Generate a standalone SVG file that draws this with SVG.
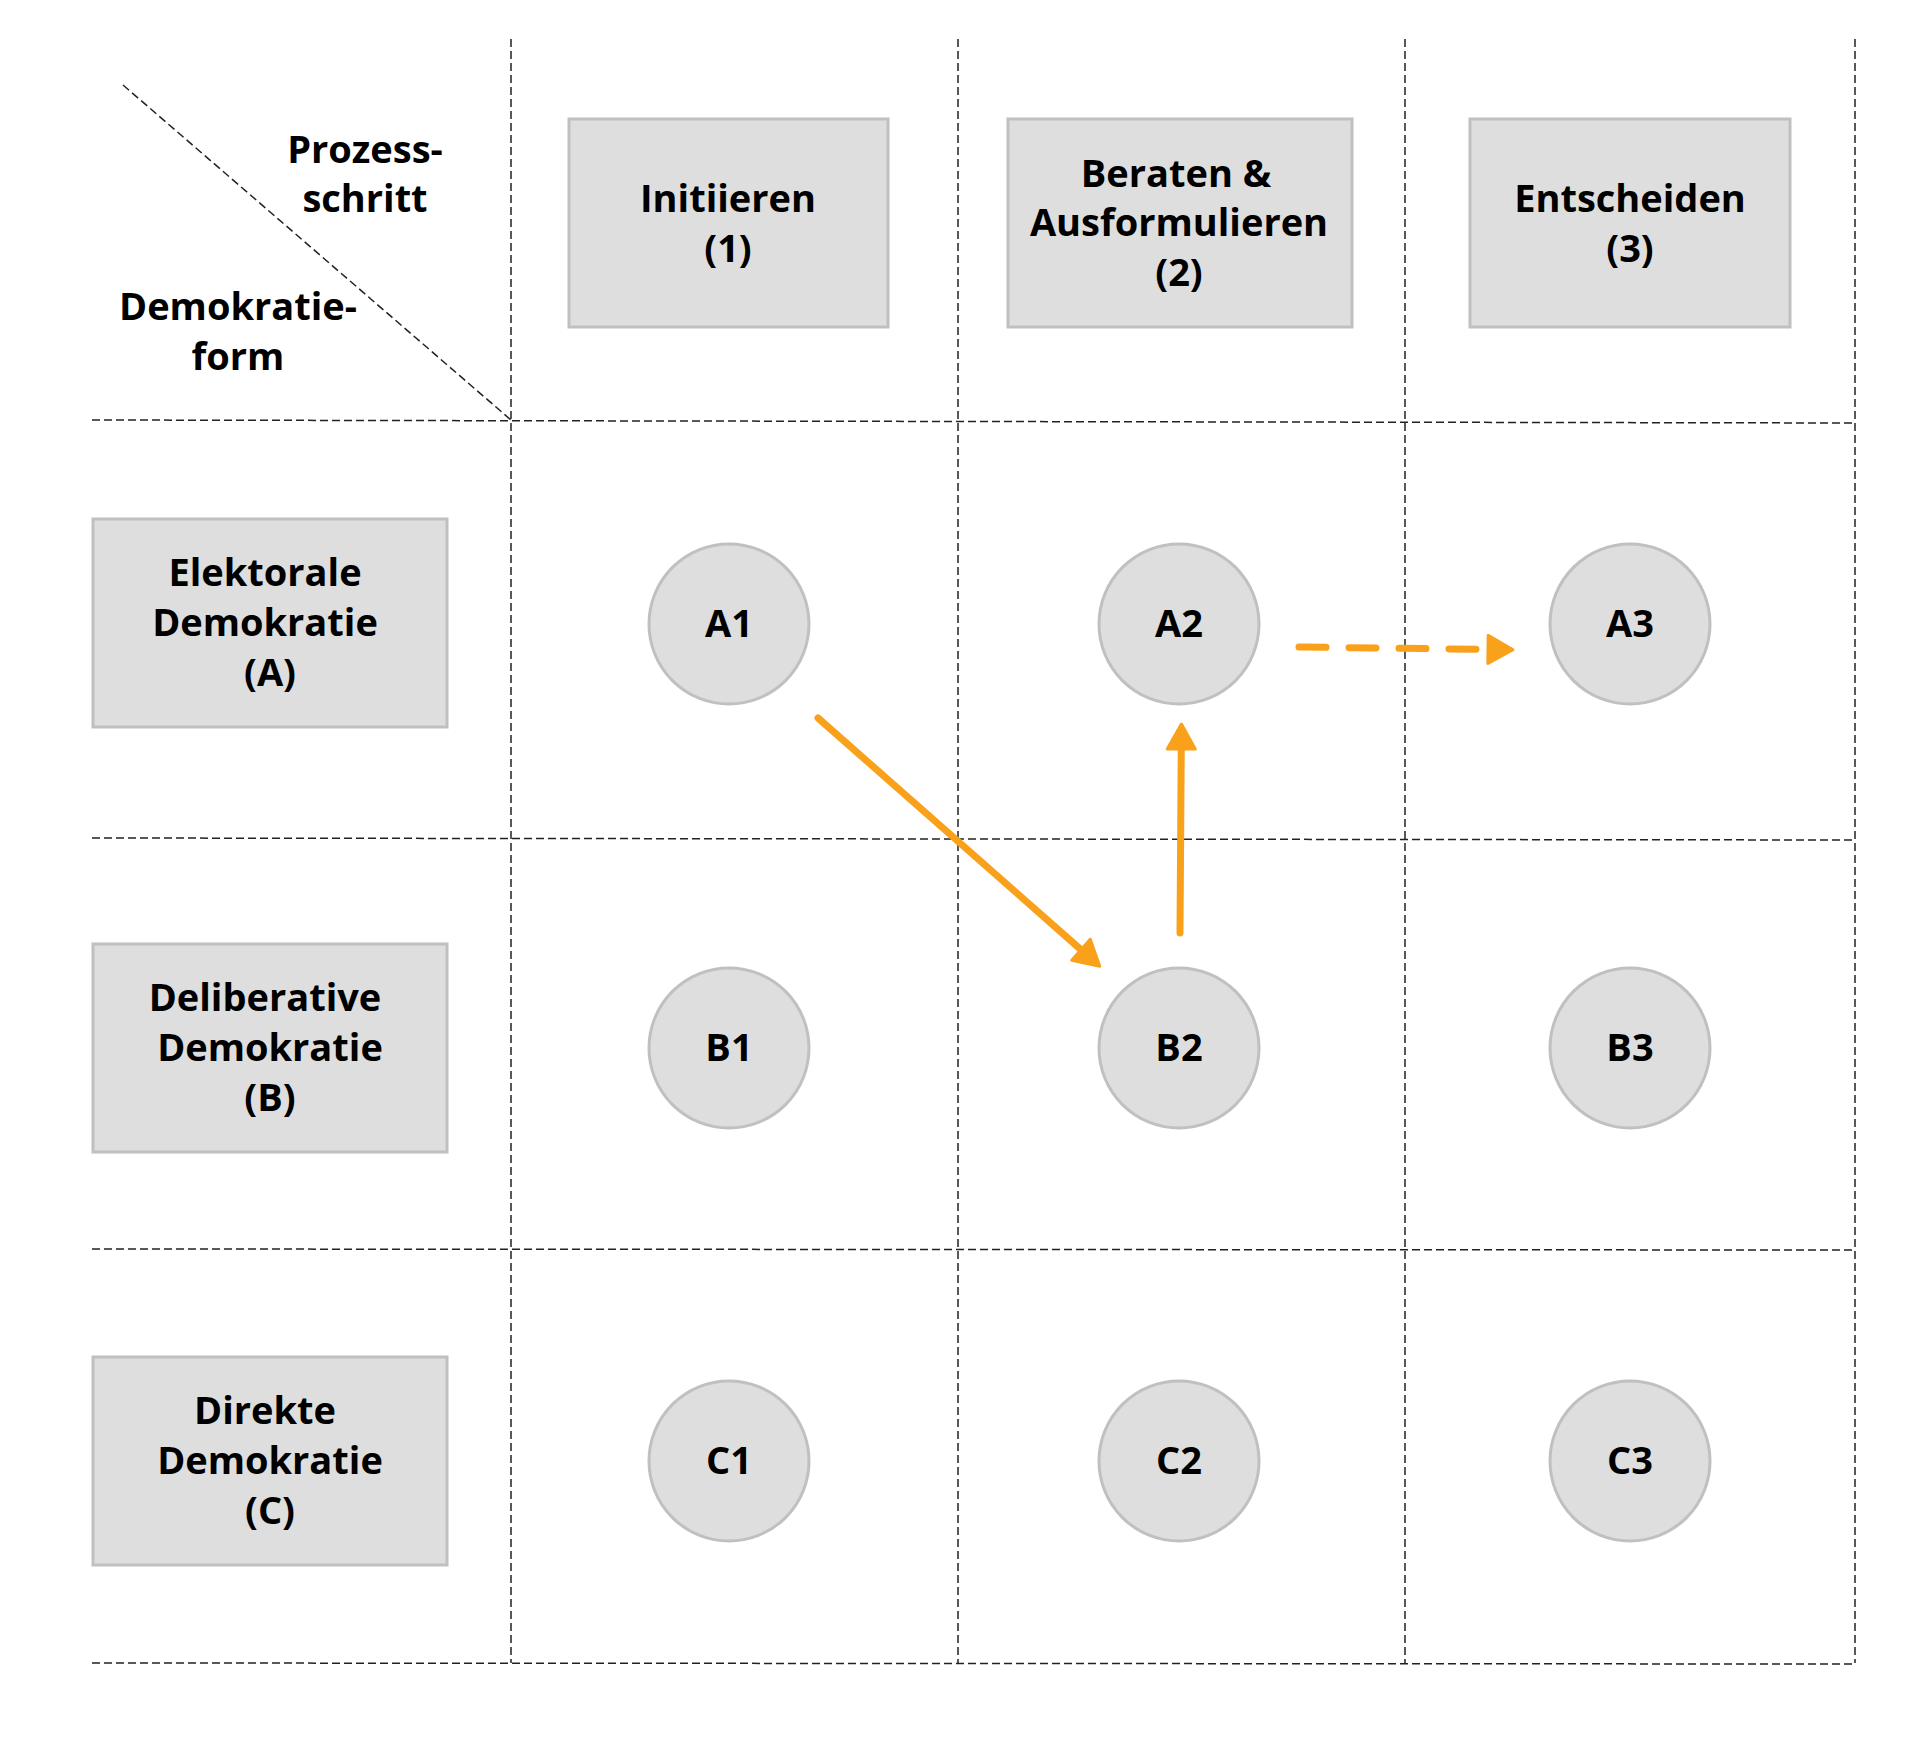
<svg xmlns="http://www.w3.org/2000/svg" width="1920" height="1760" viewBox="0 0 1920 1760">
<style>
  .grid { stroke: #222; stroke-width: 1.5; stroke-dasharray: 8 4; fill: none; }
  .box { fill: #dedede; stroke: #c0c0c0; stroke-width: 3; }
  .node { fill: #dedede; stroke: #c0c0c0; stroke-width: 3; }
  .t { font-family: "Open Sans", "Noto Sans", "Liberation Sans", sans-serif; font-weight: bold; font-size: 38px; fill: #000; text-anchor: middle; }
  .arrow { stroke: #F9A11B; stroke-width: 7; fill: none; stroke-linecap: round; }
  .dash { stroke-dasharray: 27 23; }
</style>
<defs>
  <marker id="ah" viewBox="0 0 30 32" markerUnits="userSpaceOnUse" markerWidth="30" markerHeight="32" refX="10" refY="16" orient="auto">
    <path d="M2,2 L27,16 L2,30 Z" fill="#F9A11B" stroke="#F9A11B" stroke-width="3" stroke-linejoin="round"/>
  </marker>
</defs>
<rect width="1920" height="1760" fill="#fff"/>
<g id="grid">
  <line class="grid" x1="511" y1="39" x2="511" y2="1663"/>
  <line class="grid" x1="958" y1="39" x2="958" y2="1663"/>
  <line class="grid" x1="1405" y1="39" x2="1405" y2="1663"/>
  <line class="grid" x1="1855" y1="39" x2="1855" y2="1663"/>
  <line class="grid" x1="92" y1="420" x2="1855" y2="423"/>
  <line class="grid" x1="92" y1="838" x2="1855" y2="840"/>
  <line class="grid" x1="92" y1="1249" x2="1855" y2="1250"/>
  <line class="grid" x1="92" y1="1663" x2="1855" y2="1664"/>
  <line class="grid" x1="123" y1="85" x2="511" y2="420"/>
  <text class="t" x="365" y="163">Prozess-</text>
  <text class="t" x="365" y="212">schritt</text>
  <text class="t" x="238" y="320">Demokratie-</text>
  <text class="t" x="238" y="370">form</text>
</g>
<g id="col1">
  <rect class="box" x="569" y="119" width="319" height="208"/>
  <text class="t" x="728" y="212">Initiieren</text>
  <text class="t" x="728" y="262">(1)</text>
</g>
<g id="col2">
  <rect class="box" x="1008" y="119" width="344" height="208"/>
  <text class="t" x="1176" y="187">Beraten &amp;</text>
  <text class="t" x="1179" y="236">Ausformulieren</text>
  <text class="t" x="1179" y="286">(2)</text>
</g>
<g id="col3">
  <rect class="box" x="1470" y="119" width="320" height="208"/>
  <text class="t" x="1630" y="212">Entscheiden</text>
  <text class="t" x="1630" y="262">(3)</text>
</g>
<g id="rowA">
  <rect class="box" x="93" y="519" width="354" height="208"/>
  <text class="t" x="265" y="586">Elektorale</text>
  <text class="t" x="265" y="636">Demokratie</text>
  <text class="t" x="270" y="686">(A)</text>
</g>
<g id="rowB">
  <rect class="box" x="93" y="944" width="354" height="208"/>
  <text class="t" x="265" y="1011">Deliberative</text>
  <text class="t" x="270" y="1061">Demokratie</text>
  <text class="t" x="270" y="1111">(B)</text>
</g>
<g id="rowC">
  <rect class="box" x="93" y="1357" width="354" height="208"/>
  <text class="t" x="265" y="1424">Direkte</text>
  <text class="t" x="270" y="1474">Demokratie</text>
  <text class="t" x="270" y="1524">(C)</text>
</g>
<g id="A1"><circle class="node" cx="729" cy="624" r="80"/><text class="t" x="729" y="637">A1</text></g>
<g id="A2"><circle class="node" cx="1179" cy="624" r="80"/><text class="t" x="1179" y="637">A2</text></g>
<g id="A3"><circle class="node" cx="1630" cy="624" r="80"/><text class="t" x="1630" y="637">A3</text></g>
<g id="B1"><circle class="node" cx="729" cy="1048" r="80"/><text class="t" x="729" y="1061">B1</text></g>
<g id="B2"><circle class="node" cx="1179" cy="1048" r="80"/><text class="t" x="1179" y="1061">B2</text></g>
<g id="B3"><circle class="node" cx="1630" cy="1048" r="80"/><text class="t" x="1630" y="1061">B3</text></g>
<g id="C1"><circle class="node" cx="729" cy="1461" r="80"/><text class="t" x="729" y="1474">C1</text></g>
<g id="C2"><circle class="node" cx="1179" cy="1461" r="80"/><text class="t" x="1179" y="1474">C2</text></g>
<g id="C3"><circle class="node" cx="1630" cy="1461" r="80"/><text class="t" x="1630" y="1474">C3</text></g>
<g id="connectors">
  <line class="arrow" x1="818" y1="718" x2="1087" y2="955" marker-end="url(#ah)"/>
  <line class="arrow" x1="1180" y1="933" x2="1181.3" y2="741" marker-end="url(#ah)"/>
  <line class="arrow dash" x1="1299" y1="647" x2="1496" y2="649.5" marker-end="url(#ah)"/>
</g>
</svg>
